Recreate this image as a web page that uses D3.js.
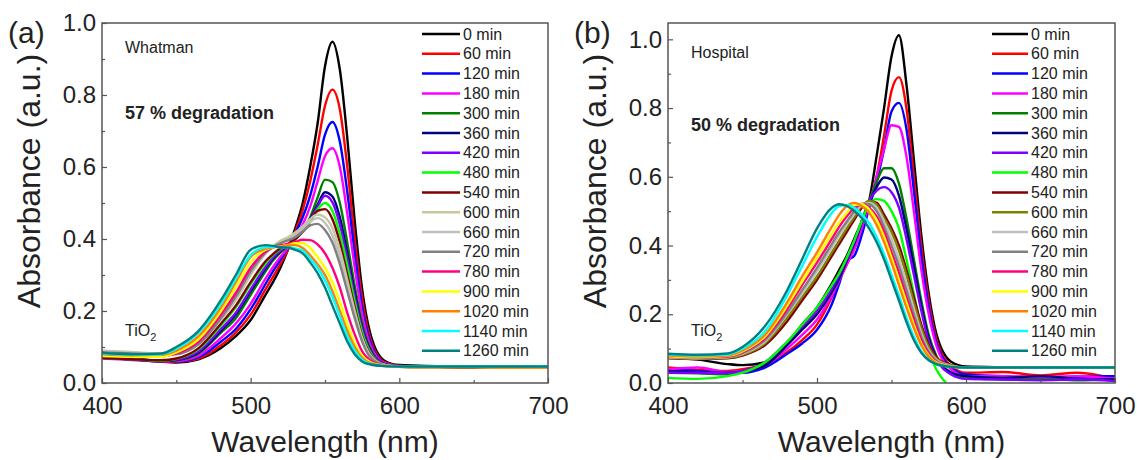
<!DOCTYPE html>
<meta charset="utf-8">
<script src="https://d3js.org/d3.v7.min.js"></script>
<style>
body { margin: 0; background: #fff; }
svg { display: block; font-family: "Liberation Sans", Arial, sans-serif; }
.frame { fill: none; stroke: #555; stroke-width: 1.5; }
.axis path { display: none; }
.axis line { stroke: #555; stroke-width: 1.2; }
.axis text { font-size: 24px; fill: #222; font-family: "Liberation Sans", Arial, sans-serif; }
</style>
<body>
<script>

// wavelength grid (nm) shared by every spectrum
var wavelengths = [400, 420, 440, 450, 465, 480, 490, 500, 510, 515, 520, 525, 530, 535, 540, 545, 550, 555, 560, 565, 570, 575, 580, 590, 600, 625, 650, 675, 700];

// irradiation times (legend)
var times = [0, 60, 120, 180, 300, 360, 420, 480, 540, 600, 660, 720, 780, 900, 1020, 1140, 1260];

var colorsA = ["#000000", "#ff0000", "#0000ff", "#ff00ff", "#008000", "#000080", "#8000ff", "#00ff00", "#800000",
  "#c8c89e", "#c0c0c0", "#808080", "#ff0080", "#ffff00", "#ff8000", "#00ffff", "#008080"];
var colorsB = ["#000000", "#ff0000", "#0000ff", "#ff00ff", "#008000", "#000080", "#8000ff", "#00ff00", "#800000",
  "#808000", "#c0c0c0", "#808080", "#ff0080", "#ffff00", "#ff8000", "#00ffff", "#008080"];

// (a) Whatman, absorbance
var whatman0    = [.072,.068,.060,.057,.066,.097,.13,.175,.245,.28,.32,.37,.43,.50,.60,.72,.88,.948,.87,.68,.45,.26,.145,.062,.05,.047,.045,.044,.044];
var whatman60   = [.070,.066,.059,.058,.068,.105,.14,.19,.26,.295,.33,.37,.42,.48,.56,.66,.77,.815,.76,.60,.40,.235,.13,.058,.048,.046,.045,.044,.043];
var whatman120  = [.070,.066,.060,.060,.072,.115,.15,.205,.275,.31,.342,.375,.415,.46,.52,.60,.69,.725,.67,.53,.36,.21,.12,.056,.047,.046,.044,.043,.043];
var whatman180  = [.068,.064,.060,.061,.076,.125,.165,.22,.29,.322,.35,.375,.405,.44,.49,.56,.63,.652,.60,.47,.32,.19,.11,.055,.047,.045,.044,.043,.042];
var whatman300  = [.070,.066,.061,.063,.082,.14,.18,.245,.31,.34,.362,.38,.40,.425,.46,.515,.565,.558,.50,.39,.27,.165,.10,.053,.046,.045,.044,.043,.042];
var whatman360  = [.070,.066,.061,.064,.085,.145,.19,.255,.318,.345,.366,.382,.40,.425,.455,.495,.53,.518,.46,.36,.25,.155,.095,.052,.046,.045,.044,.043,.042];
var whatman420  = [.070,.066,.062,.065,.088,.15,.195,.26,.322,.348,.368,.383,.40,.422,.452,.49,.52,.502,.44,.345,.24,.15,.092,.052,.046,.045,.044,.043,.042];
var whatman480  = [.070,.066,.062,.067,.094,.16,.21,.275,.333,.355,.372,.385,.40,.42,.448,.482,.50,.478,.415,.325,.225,.14,.088,.05,.045,.044,.043,.043,.042];
var whatman540  = [.070,.066,.063,.068,.097,.165,.215,.28,.338,.358,.374,.386,.40,.42,.45,.478,.483,.455,.39,.30,.21,.13,.083,.05,.045,.044,.043,.043,.042];
var whatman600  = [.090,.086,.082,.085,.11,.175,.23,.30,.36,.38,.395,.405,.418,.435,.455,.468,.46,.43,.37,.285,.20,.125,.08,.05,.046,.045,.045,.044,.044];
var whatman660  = [.088,.084,.080,.082,.108,.178,.235,.305,.36,.378,.39,.40,.412,.428,.448,.458,.445,.41,.35,.27,.19,.12,.077,.05,.046,.045,.045,.044,.044];
var whatman720  = [.085,.082,.079,.080,.108,.18,.24,.31,.362,.378,.388,.396,.405,.42,.438,.442,.425,.39,.33,.255,.18,.115,.074,.049,.046,.045,.045,.044,.044];
var whatman780  = [.078,.075,.074,.082,.115,.19,.25,.32,.365,.377,.382,.386,.392,.398,.397,.385,.36,.32,.265,.195,.135,.088,.064,.048,.045,.044,.044,.043,.043];
var whatman900  = [.075,.073,.073,.085,.122,.20,.265,.335,.37,.377,.38,.383,.388,.388,.375,.35,.32,.28,.225,.165,.11,.076,.059,.048,.045,.044,.044,.043,.043];
var whatman1020 = [.080,.077,.078,.090,.13,.21,.28,.35,.373,.377,.379,.382,.383,.375,.355,.33,.30,.255,.20,.145,.10,.07,.056,.047,.045,.044,.044,.043,.043];
var whatman1140 = [.082,.079,.080,.095,.14,.22,.29,.355,.377,.378,.377,.376,.374,.368,.345,.32,.285,.24,.185,.13,.09,.065,.054,.047,.046,.047,.046,.047,.046];
var whatman1260 = [.084,.080,.082,.100,.145,.23,.30,.37,.383,.381,.377,.376,.37,.36,.335,.305,.265,.215,.165,.115,.08,.06,.052,.047,.046,.046,.046,.046,.046];

// (b) Hospital, absorbance
var hospital0    = [.073,.068,.055,.052,.06,.115,.17,.22,.29,.33,.37,.42,.47,.53,.66,.80,.95,1.012,.87,.65,.43,.26,.145,.062,.048,.046,.045,.045,.045];
var hospital60   = [.045,.038,.035,.040,.055,.09,.125,.17,.25,.30,.345,.39,.45,.52,.60,.72,.85,.89,.80,.60,.40,.24,.13,.05,.03,.032,.022,.03,.012];
var hospital120  = [.040,.035,.030,.030,.045,.085,.115,.155,.23,.29,.355,.37,.43,.51,.585,.68,.79,.815,.74,.56,.37,.22,.12,.045,.025,.02,.015,.018,.02];
var hospital180  = [.040,.045,.032,.035,.05,.10,.14,.185,.255,.30,.345,.39,.45,.52,.60,.68,.75,.745,.66,.50,.33,.20,.11,.04,.02,.02,.018,.02,.012];
var hospital300  = [.030,.028,.025,.030,.055,.115,.16,.205,.27,.31,.36,.41,.47,.53,.585,.625,.625,.58,.48,.36,.24,.14,.08,.03,.015,.01,.012,.008,.01];
var hospital360  = [.035,.032,.030,.033,.05,.11,.155,.20,.265,.305,.355,.405,.465,.525,.57,.598,.592,.545,.45,.34,.225,.13,.075,.03,.02,.015,.02,.012,.01];
var hospital420  = [.030,.030,.028,.035,.06,.12,.165,.21,.275,.315,.36,.41,.47,.53,.56,.57,.555,.51,.42,.315,.21,.12,.07,.025,.012,.01,.008,.01,.006];
var hospital480  = [.015,.012,.020,.030,.06,.12,.17,.22,.285,.32,.365,.415,.47,.52,.535,.53,.50,.45,.36,.26,.16,.09,.04,-.015,-.04,-.1,-.1,-.1,-.1];
var hospital540  = [.072,.070,.072,.080,.11,.18,.24,.30,.37,.405,.44,.475,.51,.528,.525,.49,.45,.40,.33,.25,.17,.11,.075,.052,.045,.045,.045,.045,.045];
var hospital600  = [.073,.071,.073,.082,.115,.19,.25,.31,.38,.415,.45,.482,.515,.53,.52,.48,.44,.385,.315,.235,.16,.105,.072,.051,.045,.045,.045,.045,.045];
var hospital660  = [.075,.072,.075,.085,.12,.20,.26,.325,.395,.43,.462,.492,.518,.524,.51,.47,.42,.36,.29,.215,.145,.095,.068,.05,.045,.045,.045,.045,.045];
var hospital720  = [.076,.073,.076,.087,.125,.205,.27,.335,.405,.44,.47,.50,.522,.52,.50,.455,.40,.34,.27,.20,.135,.09,.065,.049,.045,.045,.045,.045,.045];
var hospital780  = [.078,.075,.078,.090,.13,.215,.285,.35,.42,.455,.485,.51,.52,.51,.485,.44,.38,.32,.25,.185,.125,.085,.062,.048,.045,.045,.045,.045,.045];
var hospital900  = [.078,.075,.079,.092,.135,.225,.295,.365,.435,.468,.495,.518,.52,.505,.475,.425,.365,.30,.235,.17,.115,.08,.06,.048,.045,.045,.045,.045,.045];
var hospital1020 = [.080,.077,.080,.095,.14,.235,.31,.38,.455,.49,.515,.524,.515,.495,.46,.41,.35,.285,.22,.16,.11,.076,.058,.047,.045,.045,.045,.045,.045];
var hospital1140 = [.083,.080,.083,.100,.15,.255,.34,.425,.495,.515,.518,.51,.49,.465,.425,.375,.315,.255,.19,.135,.092,.068,.055,.047,.045,.045,.045,.045,.045];
var hospital1260 = [.085,.082,.086,.105,.165,.27,.36,.45,.51,.52,.515,.50,.48,.45,.41,.36,.30,.24,.178,.125,.088,.066,.055,.047,.045,.045,.045,.045,.045];

var yTicksA = [0, 0.2, 0.4, 0.6, 0.8, 1.0];
var yTicksB = [0, 0.2, 0.4, 0.6, 0.8, 1.0];
var xTicks = [400, 500, 600, 700];
var xMinor = [450, 550, 650];

var whatman = [whatman0, whatman60, whatman120, whatman180, whatman300, whatman360, whatman420, whatman480, whatman540,
  whatman600, whatman660, whatman720, whatman780, whatman900, whatman1020, whatman1140, whatman1260];
var hospital = [hospital0, hospital60, hospital120, hospital180, hospital300, hospital360, hospital420, hospital480, hospital540,
  hospital600, hospital660, hospital720, hospital780, hospital900, hospital1020, hospital1140, hospital1260];

var width = 1137, height = 460;
var svg = d3.select("body").append("svg").attr("width", width).attr("height", height);

function drawPanel(p) {
  var x = d3.scaleLinear().domain([400, 700]).range([p.left, p.right]);
  var y = d3.scaleLinear().domain([0, p.ymax]).range([383, 23]);
  var g = svg.append("g");

  g.append("clipPath").attr("id", p.id + "clip")
    .append("rect").attr("x", p.left).attr("y", 23).attr("width", p.right - p.left).attr("height", 360);

  var line = d3.line()
    .x(function(d, i) { return x(wavelengths[i]); })
    .y(function(d) { return y(d); })
    .curve(d3.curveMonotoneX);

  g.append("g").attr("clip-path", "url(#" + p.id + "clip)")
    .selectAll("path").data(p.series).enter().append("path")
    .attr("d", line)
    .attr("fill", "none")
    .attr("stroke", function(d, i) { return p.colors[i]; })
    .attr("stroke-width", 2.4)
    .attr("stroke-linejoin", "round");

  // axes, ticks pointing inward
  g.append("g").attr("class", "axis").attr("transform", "translate(0,383)")
    .call(d3.axisBottom(x).tickValues(xTicks).tickSizeInner(-5).tickSizeOuter(0).tickPadding(14).tickFormat(d3.format("d")));
  g.append("g").attr("class", "axis").attr("transform", "translate(0,383)")
    .call(d3.axisBottom(x).tickValues(xMinor).tickSizeInner(-3).tickSizeOuter(0).tickFormat(""));
  g.append("g").attr("class", "axis").attr("transform", "translate(" + p.left + ",0)")
    .call(d3.axisLeft(y).tickValues(p.yTicks).tickSizeInner(-5).tickSizeOuter(0).tickPadding(6).tickFormat(d3.format(".1f")));
  g.append("g").attr("class", "axis").attr("transform", "translate(" + p.left + ",0)")
    .call(d3.axisLeft(y).tickValues(p.yTicks.map(function(v) { return v + 0.1; }).filter(function(v) { return v < p.ymax; }))
      .tickSizeInner(-3).tickSizeOuter(0).tickFormat(""));

  g.append("rect").attr("class", "frame")
    .attr("x", p.left).attr("y", 23).attr("width", p.right - p.left).attr("height", 360);

  // axis titles
  g.append("text").attr("x", (p.left + p.right) / 2).attr("y", 452)
    .attr("text-anchor", "middle").attr("font-size", 30).attr("fill", "#222").text("Wavelength (nm)");
  g.append("text").attr("transform", "translate(" + (p.left - 62) + ",181) rotate(-90)")
    .attr("text-anchor", "middle").attr("font-size", 32).attr("fill", "#222").text("Absorbance (a.u.)");
  g.append("text").attr("x", p.left - 94).attr("y", 43)
    .attr("font-size", 30).attr("fill", "#222").text(p.tag);

  // annotations
  g.append("text").attr("x", p.left + 23).attr("y", p.nameY).attr("font-size", 16).attr("fill", "#222").text(p.name);
  g.append("text").attr("x", p.left + 23).attr("y", p.degY).attr("font-size", 18).attr("font-weight", "bold")
    .attr("fill", "#222").text(p.degradation);
  var ti = g.append("text").attr("x", p.left + 23).attr("y", 336).attr("font-size", 16).attr("fill", "#222");
  ti.append("tspan").text("TiO");
  ti.append("tspan").attr("font-size", 11).attr("dy", 5).text("2");

  // legend
  var leg = g.append("g").selectAll("g").data(times).enter().append("g")
    .attr("transform", function(d, i) { return "translate(" + p.legX + "," + (34 + i * 19.8) + ")"; });
  leg.append("line").attr("x1", 0).attr("x2", p.legLen).attr("y1", 0).attr("y2", 0)
    .attr("stroke", function(d, i) { return p.colors[i]; }).attr("stroke-width", 2.5);
  leg.append("text").attr("x", p.legLen + 3).attr("dy", "0.35em").attr("font-size", 16).attr("fill", "#222")
    .text(function(d) { return d + " min"; });
}

drawPanel({id: "a", left: 102, right: 548, ymax: 1.0, yTicks: yTicksA, series: whatman, colors: colorsA,
  tag: "(a)", name: "Whatman", nameY: 53, degradation: "57 % degradation", degY: 119, legX: 422, legLen: 38});
drawPanel({id: "b", left: 668, right: 1115, ymax: 1.0475, yTicks: yTicksB, series: hospital, colors: colorsB,
  tag: "(b)", name: "Hospital", nameY: 58, degradation: "50 % degradation", degY: 131, legX: 992, legLen: 36});

</script>
</body>
